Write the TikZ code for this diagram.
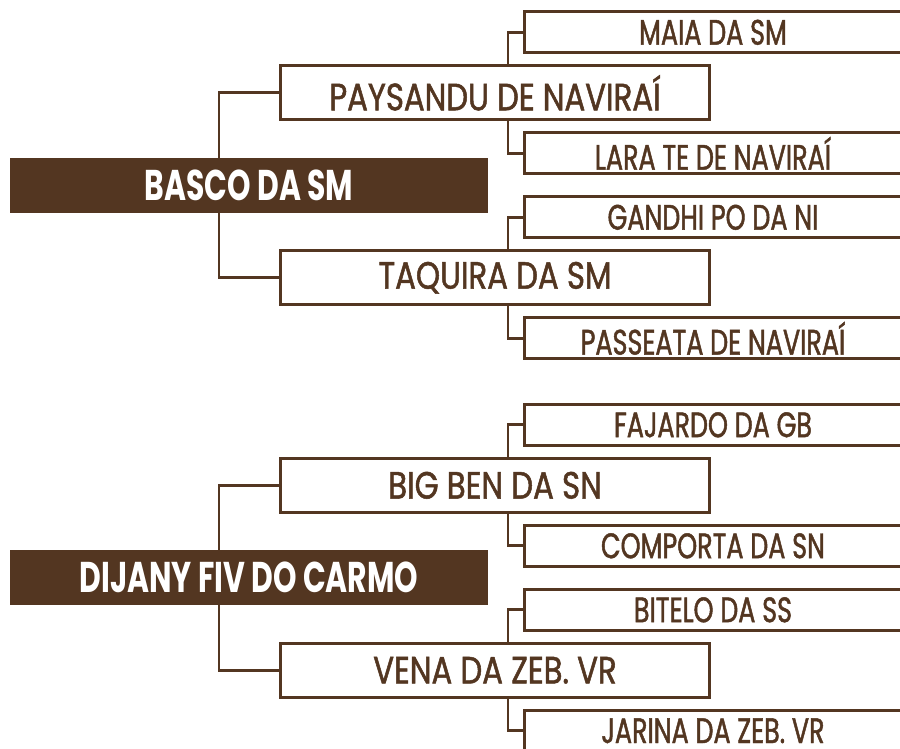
\documentclass[tikz,border=0pt]{standalone}
\usepackage{fontspec}
\setmainfont{Poppins}
\newfontfamily\midfont{Poppins}[FakeStretch=0.81, FakeBold=1.3]
\newfontfamily\leaffont{Poppins}[FakeStretch=0.72, FakeBold=1.3]
\newfontfamily\rootfont{Poppins}[FakeStretch=0.695]
\usepackage{tikz}
\usetikzlibrary{positioning}

\definecolor{bark}{HTML}{533621}

\begin{document}
\begin{tikzpicture}[
  grow'=right,
  level 1/.style={level distance=246pt, sibling distance=185pt},
  level 2/.style={level distance=218pt, sibling distance=121pt},
  edge from parent/.style={draw=bark, line width=2.7pt},
  upbranch/.style={edge from parent path={([xshift=#1]\tikzparentnode.north) |- (\tikzchildnode.west)}},
  downbranch/.style={edge from parent path={([xshift=#1]\tikzparentnode.south) |- (\tikzchildnode.west)}},
  rootbox/.style={fill=bark, text=white, inner sep=0pt, minimum width=478pt, minimum height=54.7pt,
    font=\rootfont\bfseries\fontsize{43}{43}\selectfont},
  midbox/.style={draw=bark, line width=3pt, fill=white, text=bark, inner sep=0pt,
    minimum width=429pt, minimum height=54pt, font=\midfont\fontsize{38}{38}\selectfont},
  leafbox/.style={draw=bark, line width=3pt, fill=white, text=bark, inner sep=0pt,
    minimum width=377pt, minimum height=41pt, font=\leaffont\fontsize{35.3}{35.3}\selectfont}
]
\useasboundingbox (0,0) rectangle (900pt,-748pt);
\clip (0,0) rectangle (900pt,-748pt);

% first family
\node[rootbox] (basco) at (249pt,-185.3pt) {BASCO DA SM}
  child[upbranch=-30pt] { node[midbox] (paysandu) {PAYSANDU DE NAVIRAÍ}
    child[upbranch=13pt] { node[leafbox] (maia) {MAIA DA SM} }
    child[downbranch=13pt] { node[leafbox] (lara) {LARA TE DE NAVIRAÍ} }
  }
  child[downbranch=-30pt] { node[midbox] (taquira) {TAQUIRA DA SM}
    child[upbranch=13pt] { node[leafbox] (gandhi) {GANDHI PO DA NI} }
    child[downbranch=13pt] { node[leafbox] (passeata) {PASSEATA DE NAVIRAÍ} }
  };

% second family
\node[rootbox] (dijany) at (249pt,-577.8pt) {DIJANY FIV DO CARMO}
  child[upbranch=-30pt] { node[midbox] (bigben) {BIG BEN DA SN}
    child[upbranch=13pt] { node[leafbox] (fajardo) {FAJARDO DA GB} }
    child[downbranch=13pt] { node[leafbox] (comporta) {COMPORTA DA SN} }
  }
  child[downbranch=-30pt] { node[midbox] (vena) {VENA DA ZEB. VR}
    child[upbranch=13pt] { node[leafbox] (bitelo) {BITELO DA SS} }
    child[downbranch=13pt] { node[leafbox] (jarina) {JARINA DA ZEB. VR} }
  };
\end{tikzpicture}
\end{document}
